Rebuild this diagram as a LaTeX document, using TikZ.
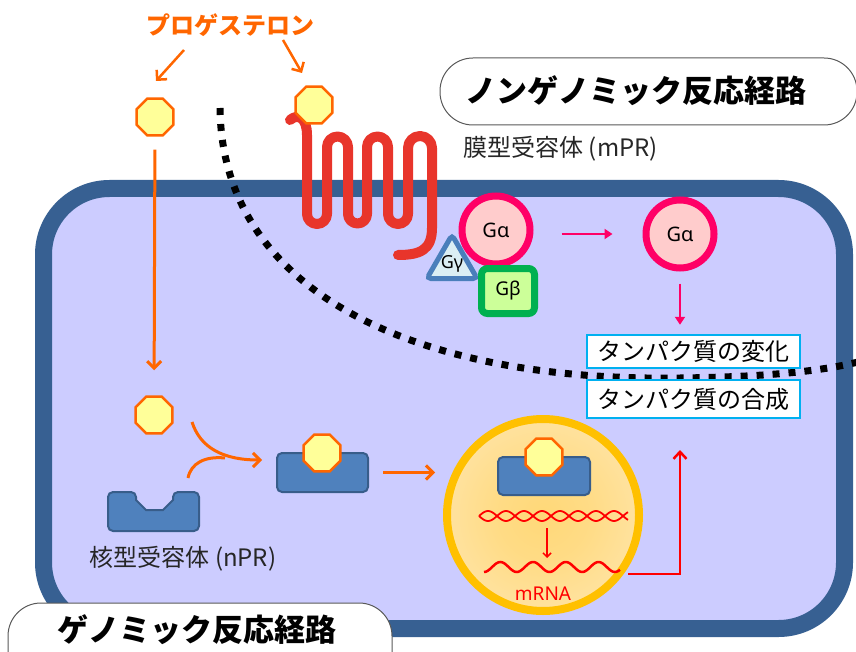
\documentclass[tikz,border=0pt]{standalone}
\usepackage{fontspec}
\setmainfont{Noto Sans CJK JP}
\newfontfamily\latin{Noto Sans}
\usetikzlibrary{shapes.geometric,arrows.meta}

\definecolor{cellfill}{HTML}{CCCCFF}
\definecolor{cellline}{HTML}{376092}
\definecolor{orng}{HTML}{FF6600}
\definecolor{hormfill}{HTML}{FFFF99}
\definecolor{rcpfill}{HTML}{4F81BD}
\definecolor{rcpline}{HTML}{385D8A}
\definecolor{gpink}{HTML}{FF0066}
\definecolor{gpinkfill}{HTML}{FFCCCC}
\definecolor{gblue}{HTML}{4A7EBB}
\definecolor{gbluefill}{HTML}{DBEEF4}
\definecolor{ggreen}{HTML}{00B050}
\definecolor{ggreenfill}{HTML}{CCFF99}
\definecolor{protline}{HTML}{00B0F0}
\definecolor{nucline}{HTML}{FFC000}
\definecolor{nucin}{HTML}{FFD878}
\definecolor{nucout}{HTML}{FFEFD0}
\definecolor{mprred}{HTML}{E8352B}

\pgfdeclareradialshading{nucglow}{\pgfpoint{0bp}{0bp}}{color(0bp)=(nucin); color(12bp)=(nucin!85!nucout); color(50bp)=(nucout)}

\tikzset{
  hormone/.style={regular polygon,regular polygon sides=8,minimum size=40pt,inner sep=0pt,
    draw=orng,fill=hormfill,line width=2.5pt},
  oarrow/.style={draw=orng,line width=3pt,-{Straight Barb[length=7pt,width=14pt]}},
  parrow/.style={draw=gpink,line width=2.5pt,-{Triangle[length=8pt,width=10pt]}},
  rarrow/.style={draw=red,line width=2.5pt,-{Straight Barb[length=7pt,width=13pt]}},
  galpha/.style={circle,minimum size=68pt,inner sep=0pt,draw=gpink,fill=gpinkfill,line width=7pt,
    font=\latin\bfseries\fontsize{20}{22}\selectfont},
  receptor/.style={draw=rcpline,fill=rcpfill,line width=2pt,rounded corners=5pt},
  protbox/.style={draw=protline,fill=white,line width=2.5pt,minimum width=213pt,inner sep=0pt,
    font=\fontsize{24}{26}\selectfont},
  pill/.style={draw=black!65,fill=white,line width=1pt,rounded corners=33pt},
  pathname/.style={font=\bfseries\fontsize{31}{34}\selectfont},
  rlabel/.style={text=black!85,font=\fontsize{24}{26}\selectfont},
}

\begin{document}
\begin{tikzpicture}[x=1pt,y=-1pt]
\useasboundingbox (0,0) rectangle (856,652);
\clip (0,0) rectangle (856,652);

% cell
\draw[draw=cellline,fill=cellfill,line width=17pt,rounded corners=66pt] (43.5,188.5) rectangle (844.5,628.5);

% border between the two pathways
\draw[line width=7pt,dash pattern=on 7pt off 9pt] (220,108) .. controls (222,295) and (420,382) .. (680,378)
  .. controls (760,377) and (820,372) .. (862,361);

% membrane receptor, seven passes through the membrane
\draw[mprred,line width=10pt,line cap=round,line join=round]
  (290,120) .. controls (298,113) and (307,118) .. (307,135) -- (307,214)
  arc[start angle=180,end angle=0,radius=10] -- (327,147)
  arc[start angle=180,end angle=360,radius=10.5] -- (348,214)
  arc[start angle=180,end angle=0,radius=9.5] -- (367,147)
  arc[start angle=180,end angle=360,radius=10.5] -- (388,214)
  arc[start angle=180,end angle=0,radius=10] -- (408,148)
  arc[start angle=180,end angle=360,radius=12] -- (432,228)
  .. controls (432,250) and (420,255) .. (398,255);

% progesterone
\node[text=orng,font=\bfseries\fontsize{24}{26}\selectfont] (prog) at (230,25) {プロゲステロン};
\node[hormone] (hexOut) at (155,117) {};
\node[hormone] (hexMem) at (314,105) {};
\coordinate (progL) at (184,50);
\coordinate (progLtip) at (156,81);
\coordinate (progR) at (283,40);
\coordinate (progRtip) at (302,73);
\draw[oarrow,line width=2.5pt] (progL) -- (progLtip);
\draw[oarrow,line width=2.5pt] (progR) -- (progRtip);

\node[rlabel,anchor=west] (mprLabel) at (460,149) {膜型受容体 (mPR)};

% G protein
\node[galpha] (ga1) at (496,230) {Gα};
\node[regular polygon,regular polygon sides=3,minimum size=58pt,inner sep=0pt,draw=gblue,fill=gbluefill,
  line width=5pt,rounded corners=4pt,label={[font=\latin\fontsize{18}{20}\selectfont]center:Gγ}] (gg) at (452,264) {};
\node[rectangle,minimum width=53pt,minimum height=45pt,rounded corners=6pt,draw=ggreen,fill=ggreenfill,
  line width=7pt,font=\latin\fontsize{19}{21}\selectfont] (gb) at (508,291) {Gβ};
\node[galpha] (ga2) at (680,234) {Gα};
\draw[parrow,shorten <=28pt,shorten >=30pt] (ga1.east |- ga2) -- (ga2);

\node[protbox,minimum height=33pt] (change) at (693.5,351.5) {タンパク質の変化};
\node[protbox,minimum height=38pt] (synth) at (693.5,399) {タンパク質の合成};
\draw[parrow,shorten <=12pt,shorten >=9pt] (ga2) -- (ga2 |- change.north);

% nuclear receptor
\node[hormone] (hexFree) at (154,415) {};
\draw[oarrow,shorten <=13pt,shorten >=25pt] (hexOut) -- (hexFree);
\draw[receptor] (108,512) -- (108,492) -- (136,492) [sharp corners] -- (136,500) -- (146,510) -- (163,510)
  -- (173,500) [rounded corners=5pt] -- (173,492) -- (199,492) -- (199,531) -- (108,531) -- cycle;
\node[rlabel] (nprLabel) at (183,559) {核型受容体 (nPR)};

\node[receptor,minimum width=91pt,minimum height=39pt] (bound) at (322.5,472.5) {};
\node[hormone] (hexBound) at (322,453) {};

\coordinate (freeStart) at (192,422);
\coordinate (rcpStart) at (188,478);
\coordinate (joinPt) at (225,458);
\coordinate (bindTip) at (262,460);
\draw[orng,line width=3pt] (rcpStart) .. controls (191,463) and (205,456) .. (joinPt);
\draw[oarrow] (freeStart) .. controls (200,447) and (222,460) .. (bindTip);

% nucleus
\node[circle,minimum size=192pt,inner sep=0pt,draw=nucline,line width=8pt,shade,shading=nucglow] (nuc) at (543,515) {};
\draw[oarrow,shorten <=14pt,shorten >=8pt] (bound) -- (bound -| nuc.west);
\node[receptor,minimum width=92pt,minimum height=38pt] (inNuc) at (544,476) {};
\node[hormone] (hexNuc) at (544,457) {};

% DNA and mRNA
\draw[red,line width=1.8pt] plot[domain=479:628,samples=150,smooth] (\x,{516+5*sin(10*(\x-479))});
\draw[red,line width=1.8pt] plot[domain=479:628,samples=150,smooth] (\x,{516-5*sin(10*(\x-479))});
\coordinate (dnaDown) at (547,528);
\coordinate (mrnaUp) at (547,558);
\draw[red,line width=1.5pt,-{Straight Barb[length=4pt,width=8pt]}] (dnaDown) -- (mrnaUp);
\draw[red,line width=2.5pt] plot[domain=484:620,samples=100,smooth] (\x,{567+5*cos(11*(\x-484))});
\node[text=red,font=\latin\fontsize{19}{21}\selectfont] (mrnaText) at (543,594) {mRNA};

\coordinate (mrnaOut) at (628,574);
\coordinate (synthTip) at (680,450);
\draw[rarrow] (mrnaOut) -| (synthTip);

% pathway names
\draw[pill] (440,58) rectangle (857,125);
\node[pathname] (nongenText) at (636,91) {ノンゲノミック反応経路};
\draw[pill] (8,603) rectangle (392,690);
\node[pathname] (genText) at (197,630) {ゲノミック反応経路};
\end{tikzpicture}
\end{document}
